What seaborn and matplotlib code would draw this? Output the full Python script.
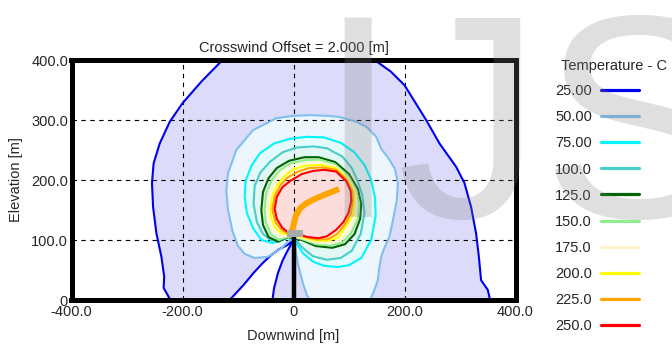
import matplotlib
matplotlib.use("Agg")
import matplotlib.pyplot as plt
from matplotlib.lines import Line2D
from matplotlib.patches import Rectangle
import pandas as pd
import seaborn as sns

# ---------------- data ----------------
title = "Crosswind Offset = 2.000 [m]"
legend_title = "Temperature - C"
level_labels = ["25.00", "50.00", "75.00", "100.0", "125.0",
                "150.0", "175.0", "200.0", "225.0", "250.0"]
line_colors = ["#0000ee", "#80bff0", "#00f5ff", "#48cdc8", "#006400",
               "#90ee90", "#fff4cc", "#ffff00", "#ffa500", "#ff0000"]
fill_colors = ["#dcdcfa", "#eef6fd", "#e3fbfd", "#e2f6f4", "#e0ecdf",
               "#eefbee", "#fffdf0", "#ffffe0", "#fff1dc", "#fddcdc"]

xticks = [-400, -200, 0, 200, 400]
xtick_labels = ["-400.0", "-200.0", "0", "200.0", "400.0"]
yticks = [0, 100, 200, 300, 400]
ytick_labels = ["0", "100.0", "200.0", "300.0", "400.0"]

# iso-temperature contours (downwind m, elevation m)
c25_x = [-222, -226, -234, -233, -238, -247, -253, -255, -252, -241, -223, -200, -166, -131, -126,
         146, 175, 200, 239, 263, 293, 308, 320, 329, 334, 338, 350, 353, 354,
         -38, -35, -28, -20, -12, -6, -3,
         -12, -25, -40, -55, -72, -90, -105, -115]
c25_y = [0, 7, 20, 39, 72, 111, 155, 195, 228, 261, 297, 328, 364, 397, 400,
         400, 381, 358, 300, 261, 222, 195, 155, 111, 72, 33, 17, 5, 0,
         0, 20, 45, 65, 80, 90, 97,
         91, 85, 75, 62, 45, 25, 10, 0]

c50_x = [-31, 0, 29, 60, 83, 110, 131, 149, 158, 172, 183, 188, 186, 178, 173, 163, 158, 154, 152, 145, 138,
         30, 24, 17, 8, 2,
         -4, -10, -22, -46, -70, -88, -100, -110, -118, -121, -118, -103, -73]
c50_y = [303, 307, 308, 307, 305, 298, 289, 272, 252, 235, 218, 195, 165, 128, 106, 85, 72, 50, 33, 15, 0,
         0, 8, 28, 60, 95,
         103, 97, 86, 72, 70, 77, 90, 115, 150, 183, 211, 250, 283]

c75_x = [-6, -20, -38, -58, -73, -84, -88, -86, -75, -60, -35, -5, 25, 55, 85, 110, 128, 140, 147, 148,
         140, 122, 100, 80, 55, 35, 17, 5]
c75_y = [106, 100, 95, 100, 120, 145, 172, 200, 225, 245, 261, 269, 272, 271, 262, 246, 225, 200, 170, 140,
         100, 70, 58, 55, 57, 64, 78, 95]

c100_x = [-8, -20, -40, -55, -66, -72, -70, -60, -43, -20, 5, 35, 60, 88, 105, 115, 124, 128, 121, 105,
          85, 60, 35, 15, 5]
c100_y = [106, 101, 99, 110, 130, 160, 190, 212, 230, 246, 254, 256, 253, 239, 220, 200, 175, 145, 110, 82,
          70, 67, 73, 88, 100]

c125_x = [-10, -28, -45, -55, -58, -55, -45, -30, -8, 20, 45, 75, 100, 116, 122, 120, 110, 93, 70, 40, 15]
c125_y = [105, 97, 105, 125, 150, 180, 203, 220, 232, 238, 238, 230, 210, 185, 160, 135, 110, 93, 87, 90, 100]

c150_x = [-9, -26, -41, -50, -52, -49, -39, -25, -5, 22, 47, 75, 99, 113, 118, 116, 104, 88, 67, 40, 14]
c150_y = [106, 100, 110, 130, 151, 178, 200, 216, 228, 233, 234, 226, 206, 183, 160, 136, 112, 96, 91, 93, 102]

c175_x = [-9, -24, -37, -45, -47, -44, -34, -22, -4, 23, 48, 75, 98, 111, 114, 112, 99, 85, 66, 40, 12]
c175_y = [107, 105, 115, 135, 152, 176, 197, 213, 224, 229, 230, 223, 204, 182, 162, 138, 115, 99, 94, 96, 104]

c200_x = [-8, -23, -34, -41, -42, -38, -28, -16, 0, 22, 50, 76, 97, 108, 110, 107, 94, 81, 63, 40, 10]
c200_y = [108, 112, 122, 140, 152, 175, 193, 207, 218, 224, 225, 220, 202, 182, 164, 141, 122, 104, 99, 99, 106]

c225_x = [-8, -21, -32, -37, -38, -34, -24, -11, 8, 28, 52, 77, 96, 106, 107, 103, 92, 79, 61, 40, 9]
c225_y = [110, 116, 129, 146, 152, 173, 191, 204, 214, 220, 221, 217, 200, 182, 165, 143, 125, 110, 101, 101, 108]

c250_x = [-8, -20, -30, -34, -30, -20, -5, 15, 35, 55, 77, 95, 103, 104, 99, 90, 77, 60, 45, 25, 8]
c250_y = [112, 120, 135, 152, 172, 188, 199, 210, 215, 217, 214, 198, 182, 165, 145, 130, 117, 106, 103, 105, 110]

contours_x = [c25_x, c50_x, c75_x, c100_x, c125_x, c150_x, c175_x, c200_x, c225_x, c250_x]
contours_y = [c25_y, c50_y, c75_y, c100_y, c125_y, c150_y, c175_y, c200_y, c225_y, c250_y]

# plume centreline, stack and stack top
plume_x = [-3, 0, 4, 12, 23, 35, 47, 63, 82]
plume_y = [113, 125, 140, 153, 161, 167, 172, 178, 185]
stack_x = [0, 0]
stack_y = [0, 105]
stack_top_x0, stack_top_y0, stack_top_w, stack_top_h = -12, 105, 30, 12

# ---------------- style ----------------
sns.set_style("white")
plt.rcParams["font.family"] = ["Liberation Sans", "DejaVu Sans"]
plt.rcParams["font.size"] = 10.5

W, H = 672, 347
fig = plt.figure(figsize=(W / 100, H / 100), dpi=100)
ax = fig.add_axes([71.5 / W, 1 - 300 / H, 444 / W, 240 / H])

for xs, ys, lc, fc in zip(contours_x, contours_y, line_colors, fill_colors):
    ax.fill(xs, ys, color=fc, lw=0, zorder=1)
    df = pd.DataFrame({"x": xs + [xs[0]], "y": ys + [ys[0]]})
    sns.lineplot(data=df, x="x", y="y", sort=False, estimator=None,
                 color=lc, lw=1.5, ax=ax, zorder=2)

sns.lineplot(x=plume_x, y=plume_y, sort=False, estimator=None, color="#ffa500",
             lw=4.3, ax=ax, zorder=2.1, solid_capstyle="butt")
sns.lineplot(x=stack_x, y=stack_y, sort=False, estimator=None, color="black",
             lw=3.2, ax=ax, zorder=2.2, solid_capstyle="butt")
ax.add_patch(Rectangle((stack_top_x0, stack_top_y0), stack_top_w, stack_top_h,
                       facecolor="#aaaaaa", edgecolor="none", zorder=2.3))

ax.set_xlim(-400, 400)
ax.set_ylim(0, 400)
ax.set_xticks(xticks)
ax.set_xticklabels(xtick_labels)
ax.set_yticks(yticks)
ax.set_yticklabels(ytick_labels)
ax.tick_params(length=0, labelsize=10.5)
ax.tick_params(axis="x", pad=3.5)
ax.tick_params(axis="y", pad=2.5)
ax.set_axisbelow("line")
ax.grid(True, color="black", lw=0.8, linestyle=(0, (4, 4)))
for s in ax.spines.values():
    s.set_visible(True)
    s.set_color("black")
    s.set_linewidth(3.6)

ax.set_title(title, fontsize=10.5, pad=5.8)
ax.set_xlabel("Downwind [m]", fontsize=10.5, labelpad=7.6)
ax.set_ylabel("Elevation [m]", fontsize=10.5, labelpad=6)

# legend (drawn in figure pixels)
def fx(px):
    return px / W

def fy(py):
    return 1 - py / H

fig.text(fx(561), fy(70.2), legend_title, fontsize=10.5, ha="left", va="baseline")
for i, (lab, col) in enumerate(zip(level_labels, line_colors)):
    yc = 90 + 26.1 * i
    fig.text(fx(592), fy(yc + 5.2), lab, fontsize=10.5, ha="right", va="baseline")
    fig.add_artist(Line2D([fx(601), fx(639)], [fy(yc), fy(yc)], color=col, lw=2.3,
                          transform=fig.transFigure))

# watermark
fig.text(fx(317), fy(217), "IJS", fontsize=208, family="Liberation Sans",
         color="#808080", alpha=0.25, ha="left", va="baseline", zorder=10)

fig.savefig("out.png", dpi=100)
